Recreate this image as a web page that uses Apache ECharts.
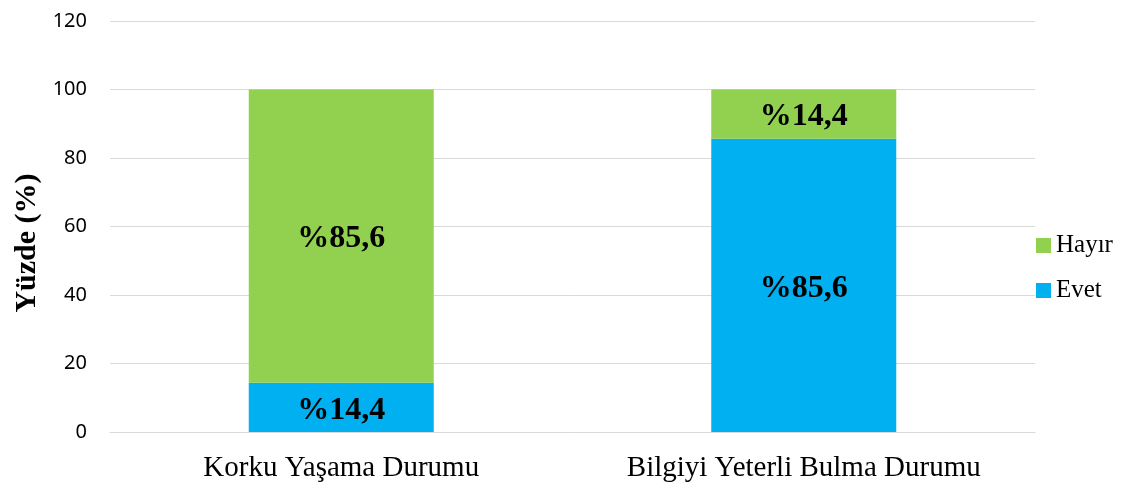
<!DOCTYPE html>
<html><head><meta charset="utf-8">
<script src="https://cdn.jsdelivr.net/npm/echarts@6/dist/echarts.min.js"></script>
<style>html,body{margin:0;padding:0;background:#fff}#c{width:1137px;height:484px}</style>
</head><body><div id="c"></div>
<script>
const categories = ['Korku Yaşama Durumu', 'Bilgiyi Yeterli Bulma Durumu'];
const evet = [14.4, 85.6];
const hayir = [85.6, 14.4];
const yTicks = { min: 0, max: 120, interval: 20 };

const fmt = p => '%' + String(p.value).replace('.', ',');
const labelStyle = { show: true, position: 'inside', offset: [0, 3], formatter: fmt, fontFamily: 'Liberation Serif', fontWeight: 'bold', fontSize: 32, color: '#000' };

const chart = echarts.init(document.getElementById('c'));
chart.setOption({
  animation: false,
  grid: { left: 110, right: 102, top: 21, bottom: 52 },
  legend: {
    orient: 'vertical', left: 1031, top: 228, itemGap: 20,
    data: ['Hayır', 'Evet'], icon: 'rect', itemWidth: 15, itemHeight: 15,
    textStyle: { fontFamily: 'Liberation Serif', fontSize: 25, color: '#000' }
  },
  xAxis: {
    type: 'category', data: categories,
    axisLine: { lineStyle: { color: '#d9d9d9' } }, axisTick: { show: false },
    axisLabel: { margin: 22, fontFamily: 'Liberation Serif', fontSize: 29, color: '#000' }
  },
  yAxis: {
    type: 'value', min: yTicks.min, max: yTicks.max, interval: yTicks.interval,
    name: 'Yüzde (%)', nameLocation: 'middle', nameGap: 65,
    nameTextStyle: { fontFamily: 'Liberation Serif', fontWeight: 'bold', fontSize: 30, color: '#000', padding: [0, 0, 0, -33] },
    axisLine: { show: false }, axisTick: { show: false },
    axisLabel: { margin: 23, fontFamily: 'Noto Sans', fontSize: 20, color: '#000' },
    splitLine: { lineStyle: { color: '#d9d9d9' } }
  },
  series: [
    { name: 'Evet', type: 'bar', stack: 's', data: evet, barWidth: '40%', itemStyle: { color: '#00B0F0' }, label: labelStyle },
    { name: 'Hayır', type: 'bar', stack: 's', data: hayir, barWidth: '40%', itemStyle: { color: '#92D050' }, label: labelStyle }
  ]
});
</script></body></html>
